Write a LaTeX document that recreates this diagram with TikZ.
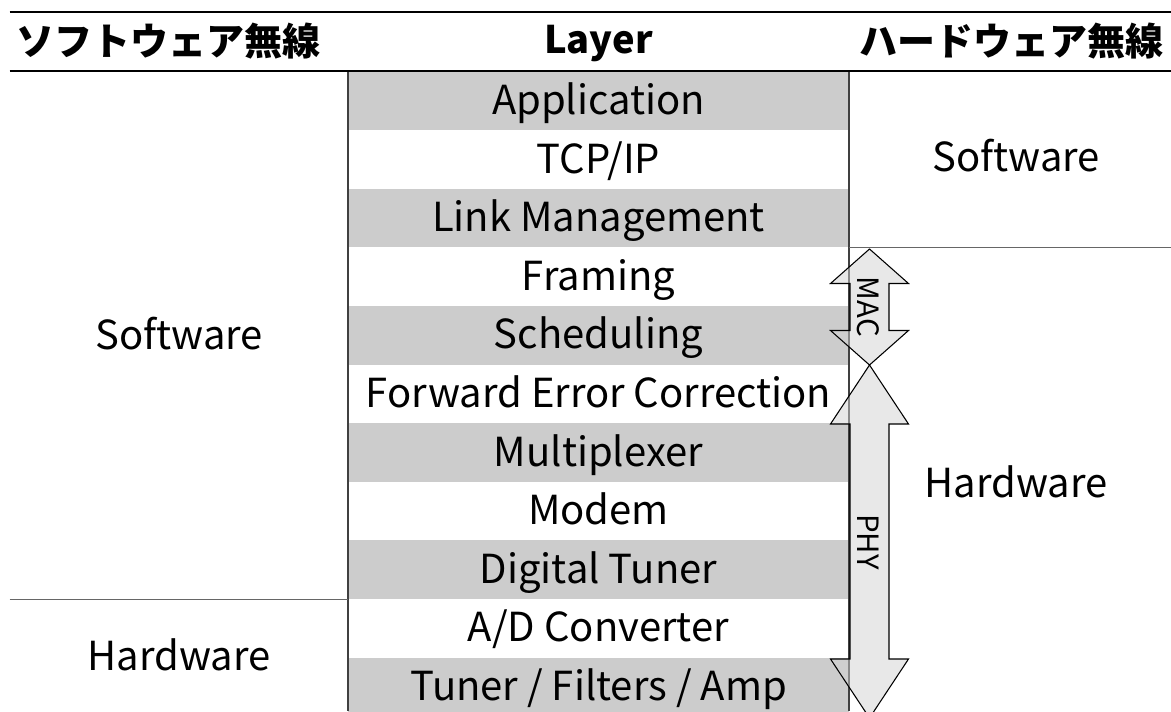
\documentclass[tikz,border=0pt]{standalone}
\usepackage{fontspec}
\setmainfont{Noto Sans CJK JP}
\begin{document}
\begin{tikzpicture}[x=0.75pt,y=-0.75pt,
  rowbox/.style={minimum width=500.5*0.75pt, minimum height=58.6*0.75pt, inner sep=0pt, draw=none,
    font=\fontsize{30}{36}\selectfont, text height=20.5pt, text depth=0pt},
  graybox/.style={rowbox, fill=rowgray},
  whitebox/.style={rowbox, fill=white},
  side/.style={inner sep=0pt, font=\fontsize{30}{36}\selectfont, text height=20.5pt, text depth=0pt},
  head/.style={inner sep=0pt, font=\fontsize{28.5}{34}\selectfont\bfseries},
  rule/.style={line width=1.6pt, draw=black},
  vline/.style={line width=1.1pt, draw=black!75},
  sepline/.style={line width=0.8pt, draw=black!60},
  arrowshape/.style={draw=black, line width=0.8pt, fill=arrowgray, fill opacity=0.5, line join=miter},
  arrowlabel/.style={inner sep=0pt, font=\fontsize{22}{26}\selectfont, rotate=-90, text height=16pt, text depth=0pt}
]
\definecolor{rowgray}{HTML}{CCCCCC}
\definecolor{arrowgray}{HTML}{D2D2D2}
\useasboundingbox (0,0) rectangle (1171,711);
\begin{scope}
\clip (0,0) rectangle (1171,711);
% rows
\node[graybox]  (r1)  at (598.5,100.8) {Application};
\node[whitebox] (r2)  at (598.5,159.4) {TCP/IP};
\node[graybox]  (r3)  at (598.5,218.0) {Link Management};
\node[whitebox] (r4)  at (598.5,276.6) {Framing};
\node[graybox]  (r5)  at (598.5,335.2) {Scheduling};
\node[whitebox] (r6)  at (598.5,393.8) {Forward Error Correction};
\node[graybox]  (r7)  at (598.5,452.4) {Multiplexer};
\node[whitebox] (r8)  at (598.5,511.0) {Modem};
\node[graybox]  (r9)  at (598.5,569.6) {Digital Tuner};
\node[whitebox] (r10) at (598.5,628.2) {A/D Converter};
\node[graybox]  (r11) at (598.5,686.8) {Tuner / Filters / Amp};
% headers
\node[head, anchor=west] (h1) at (16,41) {ソフトウェア無線};
\node[head, text height=19.5pt, text depth=0pt] (h2) at (598.5,40.5) {Layer};
\node[head, anchor=east] (h3) at (1164,41) {ハードウェア無線};
% side labels
\node[side] (ls) at (179,335.5) {Software};
\node[side] (lh) at (179,657) {Hardware};
\node[side] (rs) at (1016,158) {Software};
\node[side] (rh) at (1016,484) {Hardware};
% coordinates for lines
\coordinate (tl) at (9.5,12);
\coordinate (tr) at (1171,12);
\coordinate (ml) at (9.5,71);
\coordinate (mr) at (1171,71);
\coordinate (va1) at (348,71);
\coordinate (va2) at (348,711);
\coordinate (vb1) at (849,71);
\coordinate (vb2) at (849,711);
\coordinate (sl1) at (9.5,599.5);
\coordinate (sl2) at (348,599.5);
\coordinate (sr1) at (849,247.3);
\coordinate (sr2) at (1171,247.3);
\draw[vline] (va1) -- (va2);
\draw[vline] (vb1) -- (vb2);
\draw[sepline] (sl1) -- (sl2);
\draw[sepline] (sr1) -- (sr2);
\draw[rule] (tl) -- (tr);
\draw[rule] (ml) -- (mr);
% MAC arrow
\draw[arrowshape] (869.5,249) -- (908.5,283.5) -- (889,283.5) -- (889,330.5) -- (908.5,330.5)
  -- (869.5,365) -- (830.5,330.5) -- (850,330.5) -- (850,283.5) -- (830.5,283.5) -- cycle;
% PHY arrow
\draw[arrowshape] (869.5,365) -- (908.5,424) -- (889,424) -- (889,659) -- (908.5,659)
  -- (869.5,718) -- (830.5,659) -- (850,659) -- (850,424) -- (830.5,424) -- cycle;
\node[arrowlabel] (mac) at (868,307) {MAC};
\node[arrowlabel] (phy) at (868,542) {PHY};
\end{scope}
\end{tikzpicture}
\end{document}
